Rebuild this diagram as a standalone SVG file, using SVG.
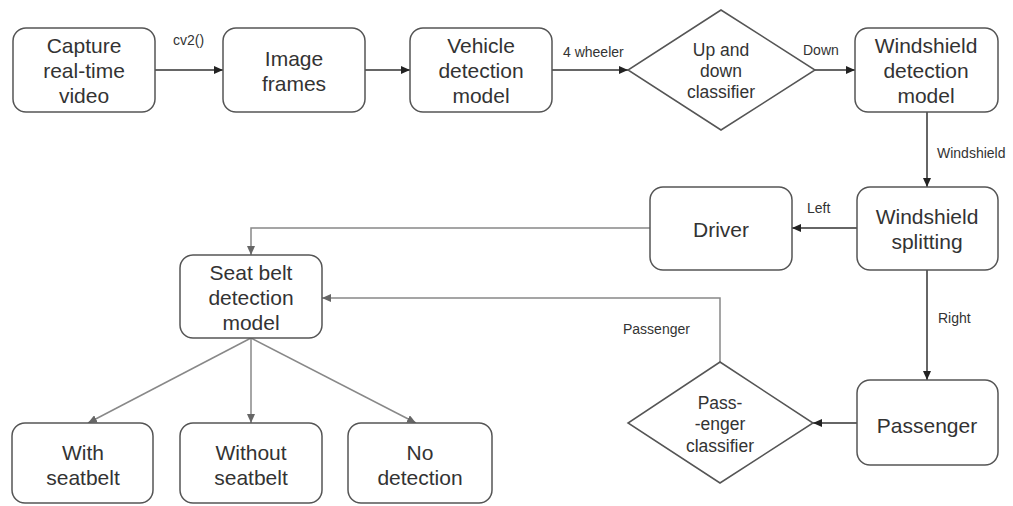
<svg xmlns="http://www.w3.org/2000/svg" width="1013" height="506" viewBox="0 0 1013 506">
<style>
.box{fill:#fff;stroke:#555;stroke-width:1.5}
.t{font-family:"Liberation Sans",Arial,sans-serif;font-size:21px;fill:#333;text-anchor:middle}
.d{font-family:"Liberation Sans",Arial,sans-serif;font-size:17.5px;fill:#333;text-anchor:middle}
.l{font-family:"Liberation Sans",Arial,sans-serif;font-size:14px;fill:#333}
.c{fill:none;stroke:#333;stroke-width:1.5}
.g{fill:none;stroke:#888;stroke-width:1.5}
</style>
<defs>
<marker id="a" markerUnits="userSpaceOnUse" markerWidth="10" markerHeight="8" refX="9" refY="4" orient="auto"><path d="M0,0 L9,4 L0,8 z" fill="#222"/></marker>
<marker id="ag" markerUnits="userSpaceOnUse" markerWidth="10" markerHeight="8" refX="9" refY="4" orient="auto"><path d="M0,0 L9,4 L0,8 z" fill="#666"/></marker>
</defs>
<rect width="1013" height="506" fill="#fff"/>
<g id="connectors">
<path class="c" d="M155,70 H223" marker-end="url(#a)"/>
<path class="c" d="M365,70 H410" marker-end="url(#a)"/>
<path class="c" d="M552,70 H628" marker-end="url(#a)"/>
<path class="c" d="M815,70 H855" marker-end="url(#a)"/>
<path class="c" d="M927,112 V187" marker-end="url(#a)"/>
<path class="c" d="M857,228 H792" marker-end="url(#a)"/>
<path class="g" d="M650,228 H251 V255" marker-end="url(#ag)"/>
<path class="c" d="M927,270 V380" marker-end="url(#a)"/>
<path class="c" d="M857,423 H813" marker-end="url(#a)"/>
<path class="g" d="M720,362 V298 H322" marker-end="url(#ag)"/>
<path class="g" d="M251,338 L88,423" marker-end="url(#ag)"/>
<path class="g" d="M251,338 V423" marker-end="url(#ag)"/>
<path class="g" d="M251,338 L416,423" marker-end="url(#ag)"/>
<text class="l" x="173" y="45" font-size="13">cv2()</text>
<text class="l" x="563" y="57">4 wheeler</text>
<text class="l" x="803" y="55">Down</text>
<text class="l" x="937" y="158">Windshield</text>
<text class="l" x="807" y="213">Left</text>
<text class="l" x="938" y="323">Right</text>
<text class="l" x="623" y="334">Passenger</text>
</g>
<g id="capture"><rect class="box" x="13" y="28" width="142" height="84" rx="13"/><text class="t" x="84" y="53">Capture</text><text class="t" x="84" y="78">real-time</text><text class="t" x="84" y="103">video</text></g>
<g id="frames"><rect class="box" x="223" y="28" width="142" height="84" rx="13"/><text class="t" x="294" y="66">Image</text><text class="t" x="294" y="91">frames</text></g>
<g id="vehicle"><rect class="box" x="410" y="28" width="142" height="84" rx="13"/><text class="t" x="481" y="53">Vehicle</text><text class="t" x="481" y="78">detection</text><text class="t" x="481" y="103">model</text></g>
<g id="updown"><polygon class="box" points="721,10 815,70 721,130 628,70"/><text class="d" x="721" y="56">Up and</text><text class="d" x="721" y="77">down</text><text class="d" x="721" y="98">classifier</text></g>
<g id="windshield-det"><rect class="box" x="855" y="28" width="143" height="84" rx="13"/><text class="t" x="926" y="53">Windshield</text><text class="t" x="926" y="78">detection</text><text class="t" x="926" y="103">model</text></g>
<g id="splitting"><rect class="box" x="857" y="187" width="141" height="83" rx="13"/><text class="t" x="927" y="224">Windshield</text><text class="t" x="927" y="249">splitting</text></g>
<g id="driver"><rect class="box" x="650" y="187" width="142" height="83" rx="13"/><text class="t" x="721" y="237">Driver</text></g>
<g id="seatbelt"><rect class="box" x="180" y="255" width="142" height="83" rx="13"/><text class="t" x="251" y="280">Seat belt</text><text class="t" x="251" y="305">detection</text><text class="t" x="251" y="330">model</text></g>
<g id="passenger"><rect class="box" x="857" y="380" width="141" height="85" rx="13"/><text class="t" x="927" y="433">Passenger</text></g>
<g id="pass-classifier"><polygon class="box" points="720,362 813,423 720,483 628,423"/><text class="d" x="720" y="409">Pass-</text><text class="d" x="720" y="430">-enger</text><text class="d" x="720" y="452">classifier</text></g>
<g id="with"><rect class="box" x="12" y="423" width="141" height="80" rx="13"/><text class="t" x="83" y="460">With</text><text class="t" x="83" y="485">seatbelt</text></g>
<g id="without"><rect class="box" x="180" y="423" width="142" height="80" rx="13"/><text class="t" x="251" y="460">Without</text><text class="t" x="251" y="485">seatbelt</text></g>
<g id="nodetect"><rect class="box" x="348" y="423" width="144" height="80" rx="13"/><text class="t" x="420" y="460">No</text><text class="t" x="420" y="485">detection</text></g>
</svg>
